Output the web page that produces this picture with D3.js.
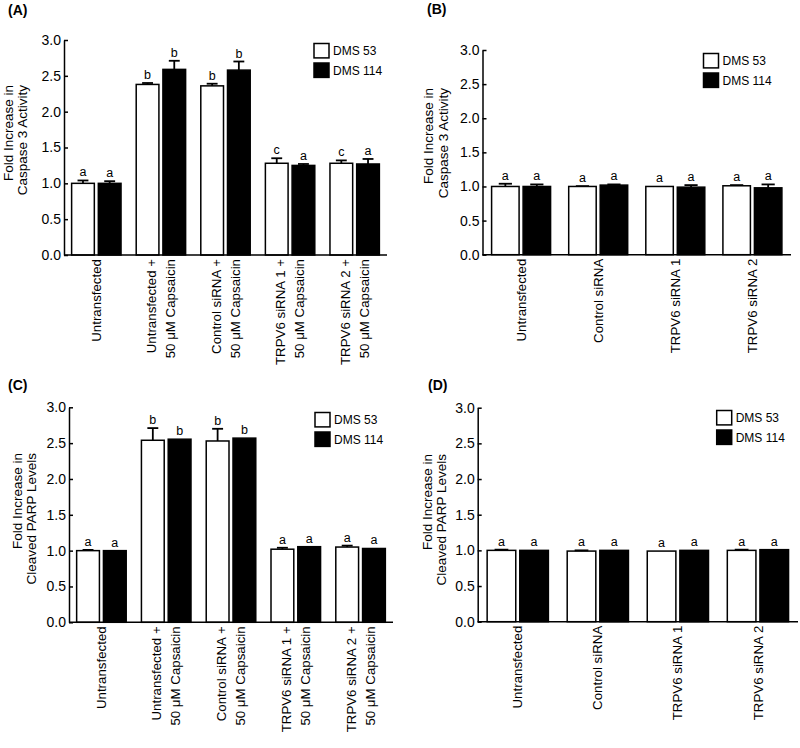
<!DOCTYPE html>
<html>
<head>
<meta charset="utf-8">
<script src="https://cdn.jsdelivr.net/npm/d3@7"></script>
<style>
  html, body { margin: 0; padding: 0; background: #fff; }
  svg { display: block; font-family: "Liberation Sans", Arial, sans-serif; }
</style>
</head>
<body>
<svg id="chart" width="800" height="748"></svg>
<script>
// ---------------- DATA ----------------
const seriesNames = ["DMS 53", "DMS 114"];
const yTickValues = [0, 0.5, 1.0, 1.5, 2.0, 2.5, 3.0];

const categoriesCaps = [
  ["Untransfected"],
  ["Untransfected +", "50 \u03BCM Capsaicin"],
  ["Control siRNA +", "50 \u03BCM Capsaicin"],
  ["TRPV6 siRNA 1 +", "50 \u03BCM Capsaicin"],
  ["TRPV6 siRNA 2 +", "50 \u03BCM Capsaicin"]
];
const categoriesSi = [
  ["Untransfected"],
  ["Control siRNA"],
  ["TRPV6 siRNA 1"],
  ["TRPV6 siRNA 2"]
];

// Panel A: Caspase 3 activity, capsaicin
const aDMS53      = [1.00, 2.38, 2.36, 1.28, 1.28];
const aDMS53Err   = [0.04, 0.02, 0.03, 0.07, 0.04];
const aDMS114     = [1.00, 2.59, 2.58, 1.25, 1.27];
const aDMS114Err  = [0.03, 0.12, 0.12, 0.02, 0.07];
const aLetters53  = ["a", "b", "b", "c", "c"];
const aLetters114 = ["a", "b", "b", "a", "a"];

// Panel B: Caspase 3 activity, siRNA only
const bDMS53      = [1.00, 1.00, 1.00, 1.01];
const bDMS53Err   = [0.04, 0.005, 0.0, 0.01];
const bDMS114     = [1.00, 1.02, 0.99, 0.98];
const bDMS114Err  = [0.03, 0.01, 0.03, 0.05];
const bLetters53  = ["a", "a", "a", "a"];
const bLetters114 = ["a", "a", "a", "a"];

// Panel C: Cleaved PARP, capsaicin
const cDMS53      = [1.00, 2.54, 2.53, 1.02, 1.05];
const cDMS53Err   = [0.01, 0.17, 0.17, 0.02, 0.02];
const cDMS114     = [1.00, 2.555, 2.57, 1.055, 1.03];
const cDMS114Err  = [0, 0, 0, 0, 0];
const cLetters53  = ["a", "b", "b", "a", "a"];
const cLetters114 = ["a", "b", "b", "a", "a"];

// Panel D: Cleaved PARP, siRNA only
const dDMS53      = [1.00, 0.99, 0.99, 1.00];
const dDMS53Err   = [0.01, 0.01, 0.0, 0.01];
const dDMS114     = [1.00, 1.00, 1.00, 1.01];
const dDMS114Err  = [0, 0, 0, 0];
const dLetters53  = ["a", "a", "a", "a"];
const dLetters114 = ["a", "a", "a", "a"];

const titleCaspase = ["Fold Increase in", "Caspase 3 Activity"];
const titlePARP    = ["Fold Increase in", "Cleaved PARP Levels"];

// ---------------- LAYOUT ----------------
const panels = [
  { label: "(A)", lx: 8, ly: 15, cats: categoriesCaps, v: [aDMS53, aDMS114], e: [aDMS53Err, aDMS114Err], t: [aLetters53, aLetters114],
    title: titleCaspase, xAxis: 64, xEnd: 387, yTop: 40, yBottom: 255, legX: 314, legY: 43.5, tx: [12.5, 27], tEnd: 85 },
  { label: "(B)", lx: 427, ly: 14, cats: categoriesSi, v: [bDMS53, bDMS114], e: [bDMS53Err, bDMS114Err], t: [bLetters53, bLetters114],
    title: titleCaspase, xAxis: 482.5, xEnd: 791, yTop: 50, yBottom: 254.7, legX: 703.5, legY: 53.5, tx: [433, 447.7], tEnd: 88 },
  { label: "(C)", lx: 8, ly: 390, cats: categoriesCaps, v: [cDMS53, cDMS114], e: [cDMS53Err, cDMS114Err], t: [cLetters53, cLetters114],
    title: titlePARP, xAxis: 69, xEnd: 393, yTop: 407.3, yBottom: 622.3, legX: 315, legY: 412.5, tx: [21.7, 36.3], tEnd: 453 },
  { label: "(D)", lx: 428, ly: 390, cats: categoriesSi, v: [dDMS53, dDMS114], e: [dDMS53Err, dDMS114Err], t: [dLetters53, dLetters114],
    title: titlePARP, xAxis: 477.7, xEnd: 798, yTop: 407.7, yBottom: 621.7, legX: 716.7, legY: 410.5, tx: [431.7, 446.3], tEnd: 454 }
];

const svg = d3.select("#chart");
const fills = ["#ffffff", "#000000"];

function drawPanel(p) {
  const g = svg.append("g");
  const y = d3.scaleLinear().domain([0, 3]).range([p.yBottom, p.yTop]);
  const x = d3.scaleBand().domain(d3.range(p.cats.length))
    .range([p.xAxis, p.xEnd]).paddingInner(0.235).paddingOuter(0.118);
  const bw = x.bandwidth();
  const step = (bw + 4) / 2;
  const xi = d3.scaleBand().domain([0, 1]).range([0, bw]).paddingInner(4 / step);
  const barW = xi.bandwidth();

  // bars
  [0, 1].forEach(si => {
    const vals = p.v[si], errs = p.e[si], lets = p.t[si];
    g.selectAll(null).data(vals).enter().append("rect")
      .attr("x", (d, i) => x(i) + xi(si))
      .attr("y", d => y(d))
      .attr("width", barW)
      .attr("height", d => y(0) - y(d))
      .attr("fill", fills[si])
      .attr("stroke", "#000")
      .attr("stroke-width", 1.5);

    // error bars
    const capW = barW * 0.48;
    vals.forEach((d, i) => {
      const cx = x(i) + xi(si) + barW / 2;
      const e = errs[i];
      if (e > 0.004) {
        g.append("line").attr("x1", cx).attr("x2", cx)
          .attr("y1", y(d)).attr("y2", y(d + e))
          .attr("stroke", "#000").attr("stroke-width", 1.8);
        g.append("line").attr("x1", cx - capW / 2).attr("x2", cx + capW / 2)
          .attr("y1", y(d + e)).attr("y2", y(d + e))
          .attr("stroke", "#000").attr("stroke-width", 1.8);
      }
      g.append("text").attr("x", cx).attr("y", y(d + e) - 4)
        .attr("text-anchor", "middle").attr("font-size", "12.5px")
        .text(lets[i]);
    });
  });

  // y axis
  const ya = g.append("g").attr("transform", `translate(${p.xAxis},0)`)
    .call(d3.axisLeft(y).tickValues(yTickValues).tickFormat(d3.format(".1f"))
      .tickSize(-4).tickSizeOuter(0).tickPadding(3));
  ya.select(".domain").attr("stroke", "#000").attr("stroke-width", 1.5);
  ya.selectAll(".tick line").attr("stroke", "#000").attr("stroke-width", 1.5);
  ya.selectAll(".tick text").attr("font-size", "14px").attr("fill", "#000")
    .attr("font-family", "Liberation Sans, Arial, sans-serif");

  // x axis line
  g.append("line").attr("x1", p.xAxis).attr("x2", p.xEnd)
    .attr("y1", y(0)).attr("y2", y(0))
    .attr("stroke", "#000").attr("stroke-width", 1.5);

  // x labels
  p.cats.forEach((lines, i) => {
    const c = x(i) + bw / 2;
    const n = lines.length;
    lines.forEach((ln, k) => {
      const bx = c + 4.6 + (k - (n - 1) / 2) * 19;
      g.append("text")
        .attr("transform", `translate(${bx},${y(0) + 4}) rotate(-90)`)
        .attr("text-anchor", "end").attr("font-size", "13.3px")
        .text(ln);
    });
  });

  // y title
  p.title.forEach((ln, k) => {
    g.append("text")
      .attr("transform", `translate(${p.tx[k]},${p.tEnd}) rotate(-90)`)
      .attr("text-anchor", "end").attr("font-size", "13.5px")
      .text(ln);
  });

  // legend
  seriesNames.forEach((s, si) => {
    const ly = p.legY + si * 19.5;
    g.append("rect").attr("x", p.legX).attr("y", ly).attr("width", 15).attr("height", 14.4)
      .attr("fill", fills[si]).attr("stroke", "#000").attr("stroke-width", 1.5);
    g.append("text").attr("x", p.legX + 19).attr("y", ly + 11.5)
      .attr("font-size", "12px").text(s);
  });

  // panel label
  g.append("text").attr("x", p.lx).attr("y", p.ly)
    .attr("font-size", "14px").attr("font-weight", "bold").text(p.label);
}

panels.forEach(drawPanel);
</script>
</body>
</html>
